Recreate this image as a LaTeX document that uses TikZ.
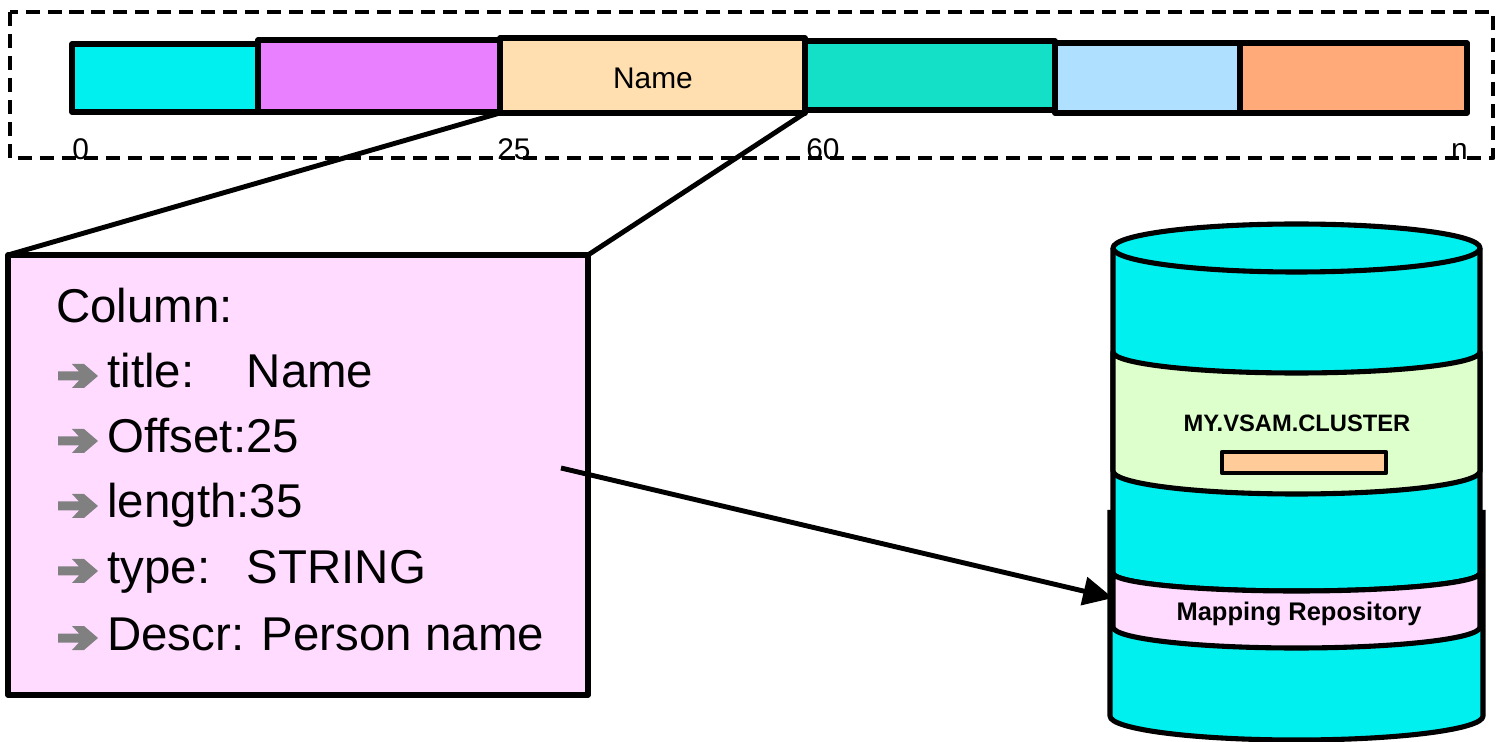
\documentclass[tikz,border=0pt]{standalone}
\usepackage{fontspec}
\setmainfont{Liberation Sans}
\usetikzlibrary{arrows.meta,fit}

\definecolor{segcyan}{HTML}{00F0F0}
\definecolor{segviolet}{HTML}{E880FF}
\definecolor{segname}{HTML}{FFDEB0}
\definecolor{segteal}{HTML}{14E0C8}
\definecolor{segblue}{HTML}{B0E0FF}
\definecolor{segorange}{HTML}{FFAA78}
\definecolor{boxpink}{HTML}{FFDCFF}
\definecolor{bandgreen}{HTML}{DDFFCC}
\definecolor{slotorange}{HTML}{FFCC99}
\definecolor{bulgray}{HTML}{808080}

\tikzset{bularrow/.pic={
  \fill[bulgray] (0,-4.5) -- (21,-4.5) -- (14,-12) -- (26,-12) -- (40,0)
    -- (26,12) -- (14,12) -- (21,4.5) -- (0,4.5) -- cycle;}}

\begin{document}
\begin{tikzpicture}[x=0.02cm,y=-0.02cm,line join=round,
  cell/.style={draw,line width=3pt,inner sep=0pt,outer sep=0pt},
  conn/.style={line width=2.8pt},
  cyl/.style={draw,line width=2.9pt},
  fieldtext/.style={anchor=base west,inner sep=0pt,font=\fontsize{27}{32}\selectfont},
  offset/.style={inner sep=0pt,font=\fontsize{17}{20}\selectfont}]
  \useasboundingbox (0,0) rectangle (1497,742);
  % record layout
  \draw[line width=2.8pt,dash pattern=on 8pt off 4.5pt] (10,12) rectangle (1493,158);
  \node[cell,fill=segcyan,fit={(72,44) (258,112)}] (f0) {};
  \node[cell,fill=segviolet,fit={(258,40) (500,112)}] (f1) {};
  \node[cell,fill=segname,fit={(500,38) (805,113)}] (name) {};
  \node[cell,fill=segteal,fit={(805,41) (1055,110)}] (f3) {};
  \node[cell,fill=segblue,fit={(1055,43) (1240,113)}] (f4) {};
  \node[cell,fill=segorange,fit={(1240,43) (1467,113)}] (f5) {};
  \node[offset] (namelbl) at (653,78) {Name};
  \node[offset,anchor=base west] (o0) at (72,160) {0};
  \node[offset,anchor=base west] (o25) at (497,160) {25};
  \node[offset,anchor=base west] (o60) at (806,160) {60};
  \node[offset,anchor=base east] (on) at (1468,160) {n};
  % column description
  \node[cell,fill=boxpink,fit={(8,255) (588,695)}] (col) {};
  \draw[conn] (name.south west) -- (col.north west);
  \draw[conn] (name.south east) -- (col.north east);
  \node[fieldtext] (colhead) at (56,323) {Column:};
  \pic at (58,376) {bularrow};
  \node[fieldtext] (ftitle) at (107,388) {\makebox[79.4pt][l]{title:}Name};
  \pic at (58,441) {bularrow};
  \node[fieldtext] (foffset) at (107,453) {Offset:25};
  \pic at (58,506) {bularrow};
  \node[fieldtext] (flength) at (107,518) {length:35};
  \pic at (58,571) {bularrow};
  \node[fieldtext] (ftype) at (107,583) {\makebox[79.4pt][l]{type:}STRING};
  \pic at (58,638) {bularrow};
  \node[fieldtext] (fdescr) at (107,650) {Descr: Person name};
  % lower cylinder
  \fill[segcyan] (1110,510) -- (1110,716) arc[start angle=180,end angle=0,x radius=186.5,y radius=24] -- (1483,510) -- cycle;
  \draw[line width=2.9pt] (1110,510) -- (1110,716) arc[start angle=180,end angle=0,x radius=186.5,y radius=24] -- (1483,510);
  % upper cylinder
  \fill[segcyan] (1113,248) -- (1113,573) arc[start angle=180,end angle=0,x radius=183.5,y radius=18] -- (1480,248) -- cycle;
  \draw[line width=2.9pt] (1113,248) -- (1113,573) arc[start angle=180,end angle=0,x radius=183.5,y radius=18] -- (1480,248);
  \draw[cyl,fill=segcyan] (1296.5,248) ellipse [x radius=183.5,y radius=24];
  \draw[cyl,fill=bandgreen] (1113,352) arc[start angle=180,end angle=0,x radius=183.5,y radius=21]
    -- (1480,471) arc[start angle=0,end angle=180,x radius=183.5,y radius=23] -- cycle;
  \draw[cyl,fill=boxpink] (1113,573) arc[start angle=180,end angle=0,x radius=183.5,y radius=18]
    -- (1480,627) arc[start angle=0,end angle=180,x radius=183.5,y radius=21] -- cycle;
  \node[cell,line width=2.6pt,fill=slotorange,fit={(1222,452) (1386,473)}] (slot) {};
  \node[font=\bfseries\fontsize{13.5}{16}\selectfont] (vsam) at (1297,423) {MY.VSAM.CLUSTER};
  \node[font=\bfseries\fontsize{14.5}{17}\selectfont] (maprepo) at (1299,614) {Mapping Repository};
  % link to repository
  \coordinate (src) at (561,468);
  \coordinate (repo) at (1113,598);
  \draw[conn,-{Triangle[length=17pt,width=16pt]}] (src) -- (repo);
\end{tikzpicture}
\end{document}
